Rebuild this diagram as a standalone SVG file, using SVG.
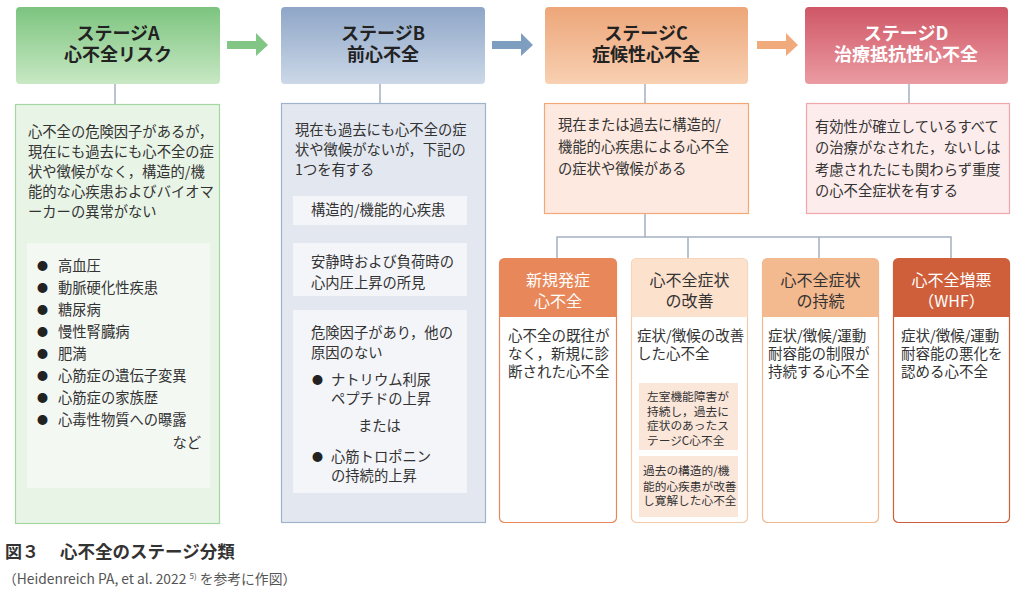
<svg xmlns="http://www.w3.org/2000/svg" width="1024" height="602" viewBox="0 0 1024 602">
<style>
text{font-family:"Noto Sans CJK JP","Noto Sans",sans-serif;fill:#333;}
.t{font-size:18px;font-weight:bold;fill:#222;text-anchor:middle;}
.tw{font-size:18px;font-weight:bold;fill:#fff;text-anchor:middle;}
.b{font-size:14.3px;}
.s{font-size:14.5px;}
.h{font-size:16px;text-anchor:middle;fill:#333;}
.hw{font-size:16px;text-anchor:middle;fill:#fff;}
.m{font-size:11.7px;}
.bul{font-size:11px;fill:#222;}
.conn{stroke:#a3b0c2;stroke-width:1.5;fill:none;}
</style>
<defs>
<linearGradient id="gA" x1="0" y1="0" x2="0" y2="1"><stop offset="0" stop-color="#7cc47f"/><stop offset="1" stop-color="#c8e8c4"/></linearGradient>
<linearGradient id="gB" x1="0" y1="0" x2="0" y2="1"><stop offset="0" stop-color="#8ea6c7"/><stop offset="1" stop-color="#ccd8e8"/></linearGradient>
<linearGradient id="gC" x1="0" y1="0" x2="0" y2="1"><stop offset="0" stop-color="#eda679"/><stop offset="1" stop-color="#f8d0b2"/></linearGradient>
<linearGradient id="gD" x1="0" y1="0" x2="0" y2="1"><stop offset="0" stop-color="#cf5766"/><stop offset="1" stop-color="#eb9ba2"/></linearGradient>
</defs>
<rect width="1024" height="602" fill="#fff"/>

<g id="connectors">
<line class="conn" x1="115" y1="84" x2="115" y2="104"/>
<line class="conn" x1="380" y1="84" x2="380" y2="103"/>
<line class="conn" x1="645" y1="84" x2="645" y2="103"/>
<line class="conn" x1="909" y1="84" x2="909" y2="103"/>
<line class="conn" x1="645" y1="214" x2="645" y2="237"/>
<polyline class="conn" points="557,259 557,237 951,237 951,259"/>
<line class="conn" x1="688" y1="237" x2="688" y2="259"/>
<line class="conn" x1="819" y1="237" x2="819" y2="259"/>
<polygon points="227,41 256,41 256,33 268,45 256,56 256,49 227,49" fill="#82c686"/>
<polygon points="492,41 521,41 521,33 533,45 521,56 521,49 492,49" fill="#7e9ec0"/>
<polygon points="757,41 786,41 786,33 798,45 786,56 786,49 757,49" fill="#f0aa7c"/>
</g>

<g id="stageA-header">
<rect x="16" y="7" width="204" height="77" rx="4" fill="url(#gA)"/>
<text class="t" x="118" y="40">ステージA</text>
<text class="t" x="118" y="61">心不全リスク</text>
</g>
<g id="stageB-header">
<rect x="281" y="7" width="204" height="77" rx="4" fill="url(#gB)"/>
<text class="t" x="383" y="40">ステージB</text>
<text class="t" x="383" y="61">前心不全</text>
</g>
<g id="stageC-header">
<rect x="545" y="7" width="203" height="77" rx="4" fill="url(#gC)"/>
<text class="t" x="646" y="40">ステージC</text>
<text class="t" x="646" y="61">症候性心不全</text>
</g>
<g id="stageD-header">
<rect x="805" y="7" width="203" height="77" rx="4" fill="url(#gD)"/>
<text class="tw" x="906" y="40">ステージD</text>
<text class="tw" x="906" y="61">治療抵抗性心不全</text>
</g>

<g id="stageA-body">
<rect x="15.5" y="104.5" width="204" height="419" fill="#e8f4e6" stroke="#a3d8a0" stroke-width="1.2"/>
<text class="b" x="28" y="137">心不全の危険因子があるが，</text>
<text class="b" x="28" y="157">現在にも過去にも心不全の症</text>
<text class="b" x="28" y="177">状や徴候がなく，構造的/機</text>
<text class="b" x="28" y="197">能的な心疾患およびバイオマ</text>
<text class="b" x="28" y="217">ーカーの異常がない</text>
<rect x="27" y="243" width="183" height="245" fill="#f4f8f3"/>
<text class="bul" x="37" y="270">●</text><text class="bul" x="37" y="292">●</text><text class="bul" x="37" y="314">●</text><text class="bul" x="37" y="336">●</text>
<text class="bul" x="37" y="358">●</text><text class="bul" x="37" y="380">●</text><text class="bul" x="37" y="402">●</text><text class="bul" x="37" y="424">●</text>
<text class="b" x="58" y="271">高血圧</text>
<text class="b" x="58" y="293">動脈硬化性疾患</text>
<text class="b" x="58" y="315">糖尿病</text>
<text class="b" x="58" y="337">慢性腎臓病</text>
<text class="b" x="58" y="359">肥満</text>
<text class="b" x="58" y="381">心筋症の遺伝子変異</text>
<text class="b" x="58" y="403">心筋症の家族歴</text>
<text class="b" x="58" y="425">心毒性物質への曝露</text>
<text class="b" x="201" y="448" text-anchor="end">など</text>
</g>

<g id="stageB-body">
<rect x="281.5" y="103.5" width="204" height="419" fill="#e3e8f0" stroke="#9fb2cc" stroke-width="1.2"/>
<text class="b" x="295" y="135">現在も過去にも心不全の症</text>
<text class="b" x="295" y="155">状や徴候がないが，下記の</text>
<text class="b" x="295" y="175">1つを有する</text>
<rect x="293" y="196" width="174" height="29" fill="#f3f5f9"/>
<text class="b" x="311" y="215">構造的/機能的心疾患</text>
<rect x="293" y="243" width="174" height="53" fill="#f3f5f9"/>
<text class="b" x="311" y="267">安静時および負荷時の</text>
<text class="b" x="311" y="288">心内圧上昇の所見</text>
<rect x="293" y="310" width="174" height="183" fill="#f3f5f9"/>
<text class="b" x="311" y="338">危険因子があり，他の</text>
<text class="b" x="311" y="358">原因のない</text>
<text class="bul" x="312" y="384">●</text>
<text class="b" x="331" y="385">ナトリウム利尿</text>
<text class="b" x="331" y="404">ペプチドの上昇</text>
<text class="b" x="358" y="431">または</text>
<text class="bul" x="312" y="461">●</text>
<text class="b" x="331" y="462">心筋トロポニン</text>
<text class="b" x="331" y="481">の持続的上昇</text>
</g>

<g id="stageC-body">
<rect x="544.5" y="103.5" width="204" height="110" fill="#fde9df" stroke="#f3a877" stroke-width="1.2"/>
<text class="b" x="558" y="130">現在または過去に構造的/</text>
<text class="b" x="558" y="152">機能的心疾患による心不全</text>
<text class="b" x="558" y="174">の症状や徴候がある</text>
</g>

<g id="stageD-body">
<rect x="806.5" y="103.5" width="203" height="110" fill="#fdecec" stroke="#f0a6ab" stroke-width="1.2"/>
<text class="b" x="815" y="132">有効性が確立しているすべて</text>
<text class="b" x="815" y="153">の治療がなされた，ないしは</text>
<text class="b" x="815" y="175">考慮されたにも関わらず重度</text>
<text class="b" x="815" y="196">の心不全症状を有する</text>
</g>

<g id="sub-new-onset">
<rect x="499.5" y="258.5" width="117" height="264" rx="5" fill="#fff" stroke="#e8885a" stroke-width="1.2"/>
<path d="M499.5,317 V263.5 a5,5 0 0 1 5,-5 H611.5 a5,5 0 0 1 5,5 V317 Z" fill="#e8885a"/>
<text class="hw" x="558" y="286">新規発症</text>
<text class="hw" x="558" y="307">心不全</text>
<text class="s" x="508" y="341">心不全の既往が</text>
<text class="s" x="508" y="359">なく，新規に診</text>
<text class="s" x="508" y="377">断された心不全</text>
</g>

<g id="sub-improved">
<rect x="631.5" y="258.5" width="116" height="264" rx="5" fill="#fff" stroke="#f6c9a8" stroke-width="1.2"/>
<path d="M631.5,317 V263.5 a5,5 0 0 1 5,-5 H742.5 a5,5 0 0 1 5,5 V317 Z" fill="#fce1cd"/>
<text class="h" x="689.5" y="286">心不全症状</text>
<text class="h" x="689.5" y="307">の改善</text>
<text class="s" x="637" y="341">症状/徴候の改善</text>
<text class="s" x="637" y="359">した心不全</text>
<rect x="639" y="383" width="99" height="67" fill="#fbe6da"/>
<text class="m" x="647" y="401">左室機能障害が</text>
<text class="m" x="647" y="416">持続し，過去に</text>
<text class="m" x="647" y="430">症状のあったス</text>
<text class="m" x="647" y="445">テージC心不全</text>
<rect x="639" y="456" width="99" height="61" fill="#fbe6da"/>
<text class="m" x="643" y="475">過去の構造的/機</text>
<text class="m" x="643" y="491">能的心疾患が改善</text>
<text class="m" x="643" y="505">し寛解した心不全</text>
</g>

<g id="sub-persistent">
<rect x="762.5" y="258.5" width="116" height="264" rx="5" fill="#fff" stroke="#f0b88e" stroke-width="1.2"/>
<path d="M762.5,317 V263.5 a5,5 0 0 1 5,-5 H873.5 a5,5 0 0 1 5,5 V317 Z" fill="#f3b98f"/>
<text class="h" x="820.5" y="286">心不全症状</text>
<text class="h" x="820.5" y="307">の持続</text>
<text class="s" x="768" y="341">症状/徴候/運動</text>
<text class="s" x="768" y="359">耐容能の制限が</text>
<text class="s" x="768" y="377">持続する心不全</text>
</g>

<g id="sub-whf">
<rect x="893.5" y="258.5" width="116" height="264" rx="5" fill="#fff" stroke="#cf5f3b" stroke-width="1.2"/>
<path d="M893.5,317 V263.5 a5,5 0 0 1 5,-5 H1004.5 a5,5 0 0 1 5,5 V317 Z" fill="#cf5f3b"/>
<text class="hw" x="951.5" y="286">心不全増悪</text>
<text class="hw" x="951.5" y="307">（WHF）</text>
<text class="s" x="901" y="341">症状/徴候/運動</text>
<text class="s" x="901" y="359">耐容能の悪化を</text>
<text class="s" x="901" y="377">認める心不全</text>
</g>

<g id="caption">
<text x="5" y="558" style="font-size:17px;font-weight:bold;fill:#333;">図３</text>
<text x="60" y="558" style="font-size:17.5px;font-weight:bold;fill:#333;">心不全のステージ分類</text>
<text x="3" y="584" style="font-size:13.8px;fill:#555;">（Heidenreich PA, et al. 2022 <tspan dy="-5" style="font-size:8px;">5)</tspan><tspan dy="5"> を参考に作図）</tspan></text>
</g>
</svg>
